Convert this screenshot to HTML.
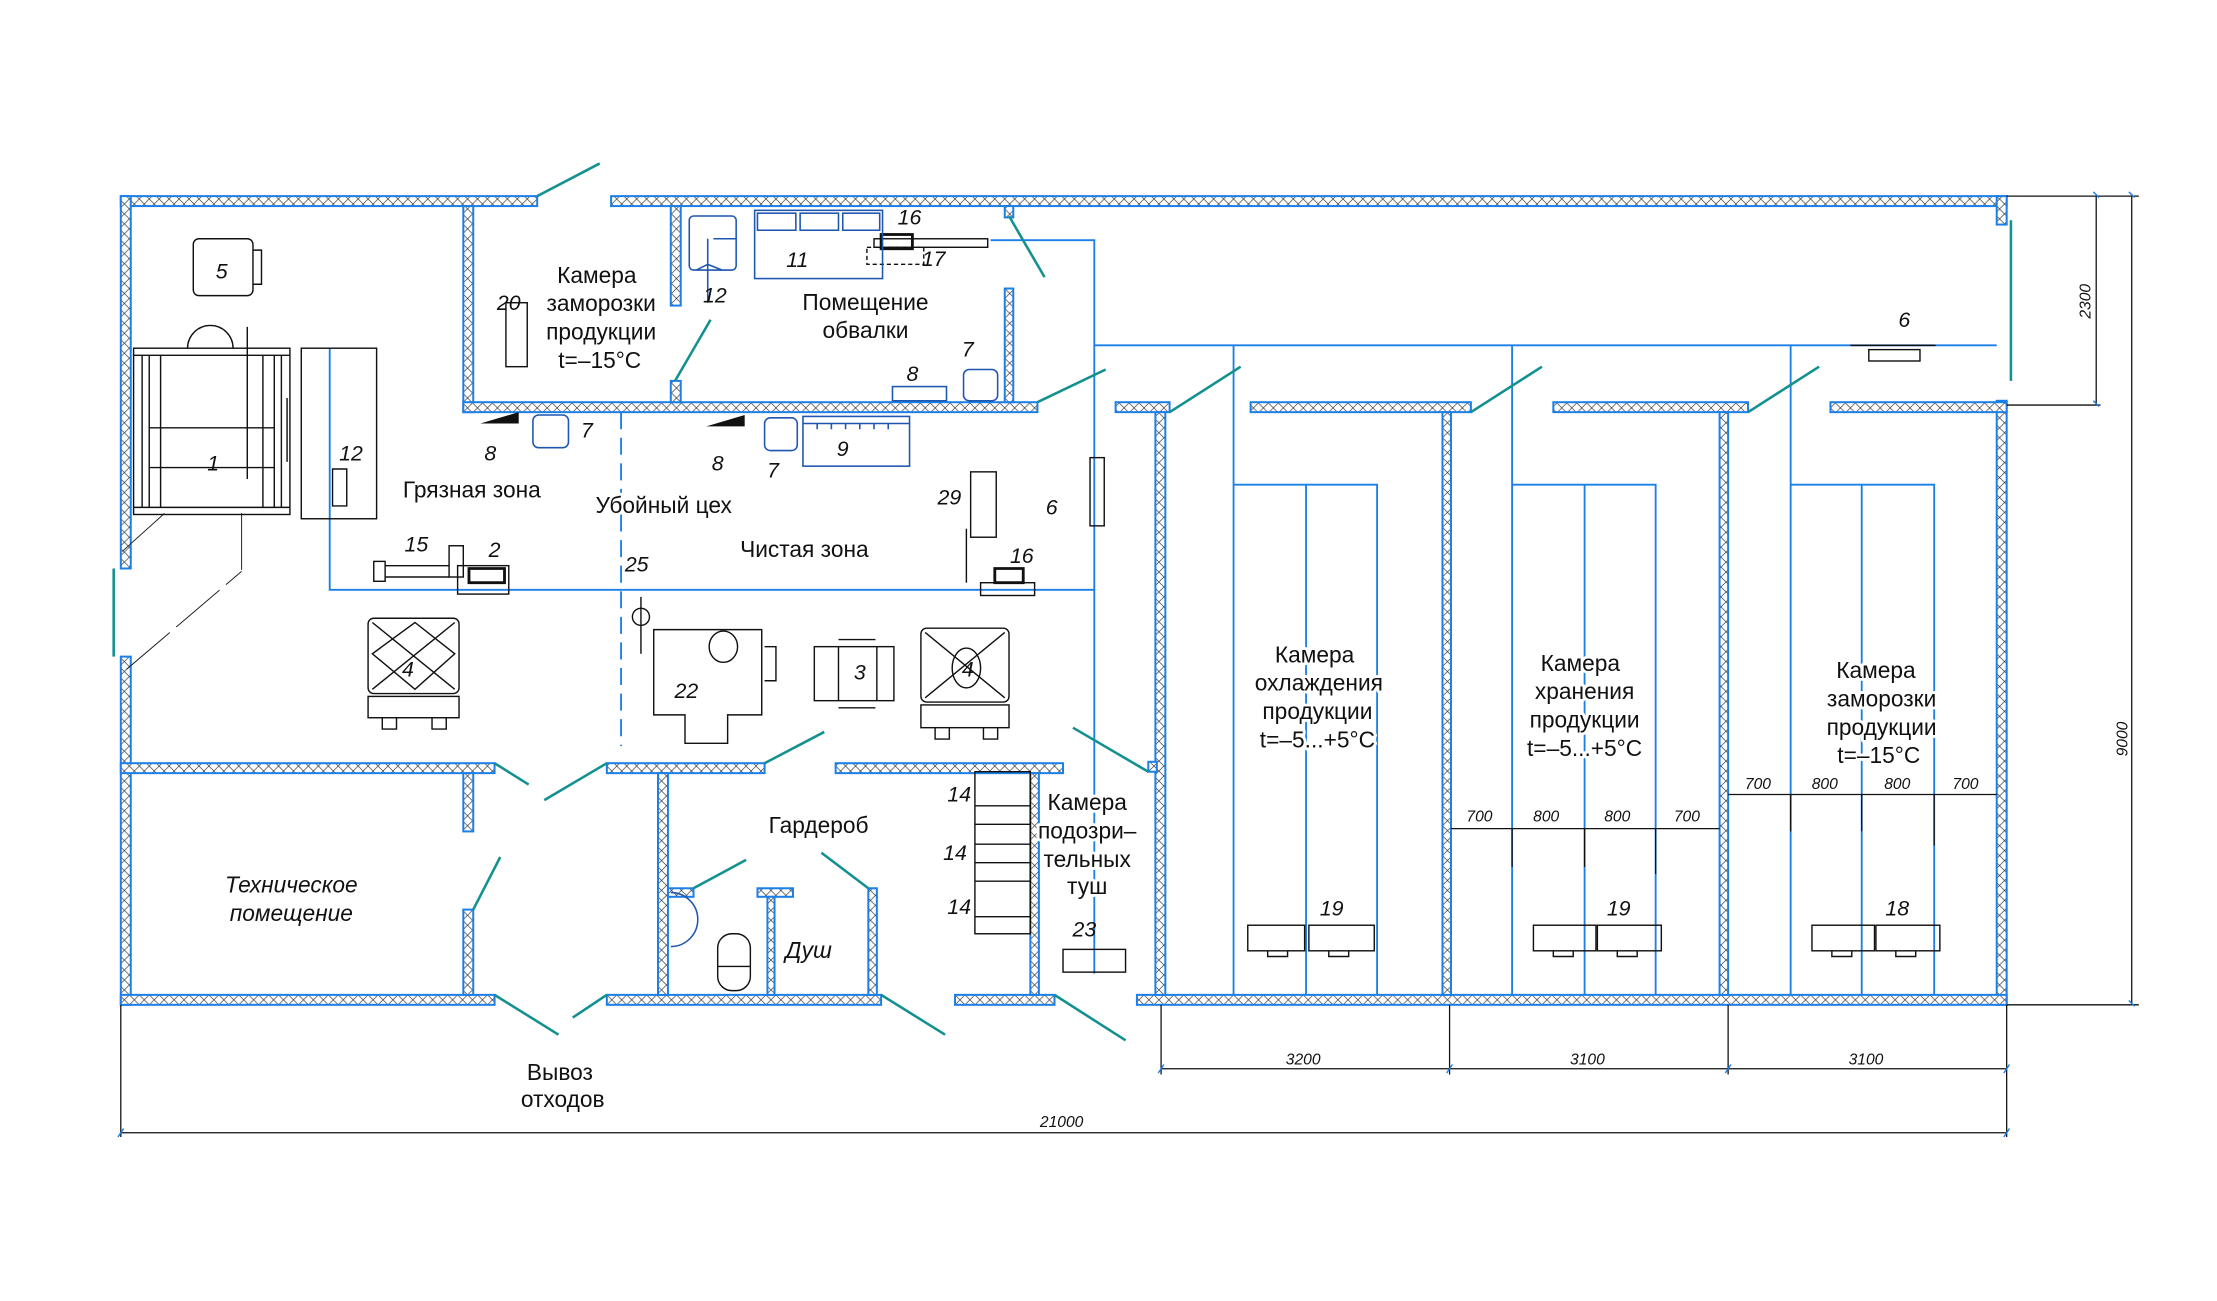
<!DOCTYPE html>
<html><head><meta charset="utf-8">
<style>
html,body{margin:0;padding:0;background:#fff;}
svg{display:block;}
text{font-family:"Liberation Sans Narrow","Liberation Sans",sans-serif;fill:#111;}
.t{font-size:16px;text-anchor:middle;paint-order:stroke;stroke:#fff;stroke-width:4px;stroke-linejoin:round;}
.n{font-size:15px;text-anchor:middle;font-style:italic;}
.d{font-size:11px;text-anchor:middle;font-style:italic;fill:#333;}
</style></head>
<body>
<svg width="2217" height="1301" viewBox="0 0 1560 915.4" preserveAspectRatio="none" xmlns="http://www.w3.org/2000/svg">
<defs>
<pattern id="h" patternUnits="userSpaceOnUse" width="7" height="7">
<rect width="7" height="7" fill="#fff"/>
<path d="M0 0L7 7M7 0L0 7" stroke="#333" stroke-width="0.45"/>
</pattern>
</defs>
<rect width="1560" height="915.4" fill="#fff"/>

<g stroke="#1a7fe8" stroke-width="1.3" fill="none">
<path d="M232 245V415H770"/>
<path d="M697 169H770V685"/>
<path d="M770 243H1405"/>
<path d="M868 243V700M1064 243V700M1260 243V700"/>
<path d="M868 341H969V700M919 341V700"/>
<path d="M1064 341H1165V700M1115 341V700"/>
<path d="M1260 341H1361V700M1310 341V700"/>
<path d="M437 290V525" stroke-dasharray="12,6"/>
</g>

<g fill="url(#h)" stroke="#1a7fe8" stroke-width="1.4">
<rect x="85" y="138" width="293" height="7"/>
<rect x="430" y="138" width="982" height="7"/>
<rect x="85" y="138" width="7" height="262"/>
<rect x="85" y="462" width="7" height="245"/>
<rect x="1405" y="138" width="7" height="20"/>
<rect x="1405" y="282" width="7" height="425"/>
<rect x="85" y="700" width="263" height="7"/>
<rect x="427" y="700" width="193" height="7"/>
<rect x="672" y="700" width="70" height="7"/>
<rect x="800" y="700" width="612" height="7"/>
<rect x="326" y="145" width="7" height="145"/>
<rect x="326" y="283" width="404" height="7"/>
<rect x="472" y="145" width="7" height="70"/>
<rect x="472" y="268" width="7" height="15"/>
<rect x="707" y="203" width="6" height="80"/>
<rect x="707" y="145" width="6" height="8"/>
<rect x="785" y="283" width="38" height="7"/>
<rect x="880" y="283" width="155" height="7"/>
<rect x="1093" y="283" width="137" height="7"/>
<rect x="1288" y="283" width="124" height="7"/>
<rect x="813" y="290" width="7" height="410"/>
<rect x="1015" y="290" width="6" height="410"/>
<rect x="1210" y="290" width="6" height="410"/>
<rect x="85" y="537" width="263" height="7"/>
<rect x="427" y="537" width="111" height="7"/>
<rect x="588" y="537" width="160" height="7"/>
<rect x="326" y="544" width="7" height="41"/>
<rect x="326" y="640" width="7" height="60"/>
<rect x="463" y="544" width="7" height="156"/>
<rect x="725" y="544" width="6" height="156"/>
<rect x="470" y="625" width="18" height="6"/>
<rect x="533" y="625" width="25" height="6"/>
<rect x="540" y="631" width="5" height="69"/>
<rect x="611" y="625" width="6" height="75"/>
<rect x="808" y="536" width="6" height="7"/>
</g>

<g stroke="#139090" stroke-width="1.8" fill="none">
<path d="M378 138L422 115"/>
<path d="M475 268L500 225"/>
<path d="M710 152L735 195"/>
<path d="M730 283L778 260"/>
<path d="M823 290L873 258"/>
<path d="M1035 290L1085 258"/>
<path d="M1230 290L1280 258"/>
<path d="M1415 155V268"/>
<path d="M80 400V462"/>
<path d="M348 537L372 552"/>
<path d="M427 537L383 563"/>
<path d="M538 537L580 515"/>
<path d="M755 512L808 543"/>
<path d="M333 640L352 603"/>
<path d="M488 625L525 605"/>
<path d="M611 625L578 600"/>
<path d="M348 700L393 728"/>
<path d="M427 700L403 716"/>
<path d="M620 700L665 728"/>
<path d="M742 700L792 732"/>
</g>
<g stroke="#222" stroke-width="0.7" fill="none">
<path d="M86 388L116 361M89 471L170 402M170 361V402" stroke-dasharray="40,6"/>
</g>

<g stroke="#111" stroke-width="1" fill="none">
<rect x="136" y="168" width="42" height="40" rx="4"/>
<path d="M178 176h6v24h-6"/>
<rect x="94" y="245" width="110" height="117"/>
<path d="M94 250h110M94 357h110M100 250v107M105 250v107M113 250v107M198 250v107M193 250v107M185 250v107M105 301h88M105 329h88"/>
<path d="M132 245a16 16 0 0 1 32 0"/>
<path d="M174 337V230M202 280v45"/>
<rect x="212" y="245" width="53" height="120"/>
<path d="M234 330h10v26h-10z"/>
<rect x="263" y="395" width="8" height="14"/>
<path d="M271 398h45M271 406h45"/>
<rect x="316" y="384" width="10" height="22"/>
<rect x="322" y="398" width="36" height="20"/>
<path d="M330 400h25v10h-25z" stroke-width="2"/>
<rect x="690" y="410" width="38" height="9"/>
<path d="M700 400h20v10h-20z" stroke-width="2"/>
<path d="M680 372V410"/>
<rect x="259" y="435" width="64" height="53" rx="4"/>
<path d="M262 438l58 47M320 438l-58 47M262 460l30-22 28 22-28 25z"/>
<rect x="259" y="490" width="64" height="15"/>
<path d="M269 505v8h10v-8M304 505v8h10v-8"/>
<rect x="648" y="442" width="62" height="52" rx="4"/>
<path d="M651 445l56 46M707 445l-56 46"/>
<rect x="648" y="496" width="62" height="16"/>
<path d="M658 512v8h10v-8M692 512v8h10v-8"/>
<ellipse cx="680" cy="470" rx="10" ry="14"/>
<path d="M462 443h38M528 443h8v60h-24v20h-30v-20h-22v-60z"/>
<ellipse cx="509" cy="455" rx="10" ry="11"/>
<path d="M538 455h8v24h-8"/>
<path d="M451 420v40"/><circle cx="451" cy="434" r="6"/>
<rect x="573" y="455" width="56" height="38"/>
<path d="M590 455v38M617 455v38M590 450h26M590 498h26"/>
<rect x="683" y="332" width="18" height="46"/>
<rect x="767" y="322" width="10" height="48"/>
<rect x="356" y="213" width="15" height="45"/>
<rect x="615" y="168" width="80" height="6"/>
<rect x="620" y="165" width="22" height="10" stroke-width="2"/>
<rect x="610" y="174" width="40" height="12" stroke-dasharray="3,2"/>
<rect x="686" y="543" width="39" height="114"/>
<path d="M686 567h39M686 594h39M686 620h39M686 645h39M686 580h39M686 607h39"/>
<rect x="748" y="668" width="44" height="16"/>
<rect x="878" y="651" width="40" height="18"/><rect x="921" y="651" width="46" height="18"/>
<rect x="1079" y="651" width="44" height="18"/><rect x="1124" y="651" width="45" height="18"/>
<rect x="1275" y="651" width="44" height="18"/><rect x="1320" y="651" width="45" height="18"/>
<path d="M892 669v4h14v-4M935 669v4h14v-4M1093 669v4h14v-4M1138 669v4h14v-4M1289 669v4h14v-4M1334 669v4h14v-4"/>
<path d="M1302 243h60"/><rect x="1315" y="246" width="36" height="8"/>
<rect x="505" y="657" width="23" height="40" rx="10"/>
<path d="M505 680h23"/>
</g>
<g stroke="#1e56b0" stroke-width="1.1" fill="none">
<rect x="485" y="152" width="33" height="38" rx="3"/>
<path d="M502 168h16M498 168v45M490 190l8 -4 10 4"/>
<rect x="531" y="148" width="90" height="48"/>
<rect x="533" y="150" width="27" height="12"/><rect x="563" y="150" width="27" height="12"/><rect x="593" y="150" width="26" height="12"/>
<rect x="628" y="272" width="38" height="10"/>
<rect x="678" y="260" width="24" height="22" rx="4"/>
<rect x="375" y="292" width="25" height="23" rx="4"/>
<rect x="538" y="294" width="23" height="23" rx="4"/>
<rect x="565" y="293" width="75" height="35"/>
<path d="M565 298h75M575 298v4M585 298v4M595 298v4M605 298v4M615 298v4M625 298v4"/>
<path d="M472 628a16 16 0 0 1 0 38"/>
</g>
<path d="M338 298l27 -8v8z M497 300l27 -8v8z" fill="#111"/>

<g stroke="#111" stroke-width="0.9" fill="none">
<path d="M85 797H1412M85 707V800M1412 707V800"/>
<path d="M817 752H1412M817 707V756M1020 707V756M1216 707V756"/>
<path d="M1412 138H1505M1412 285H1478M1412 707H1505M1475 138V285M1500 138V707"/>
<path d="M1021 583H1210M1064 583V610M1115 583V610M1165 583V615"/>
<path d="M1216 559H1405M1260 559V585M1310 559V585M1361 559V595"/>
</g>
<g stroke="#1a7fe8" stroke-width="1">
<path d="M83 800l4 -6M815 755l4 -6M1018 755l4 -6M1214 755l4 -6M1410 755l4 -6M1410 800l4 -6"/>
<path d="M1473 135l4 4M1473 282l4 4M1498 135l4 4M1498 704l4 4"/>
</g>

<g class="t">
<text x="420" y="199">Камера</text>
<text x="423" y="219">заморозки</text>
<text x="423" y="239">продукции</text>
<text x="422" y="259">t=–15°C</text>
<text x="609" y="218">Помещение</text>
<text x="609" y="238">обвалки</text>
<text x="332" y="350">Грязная зона</text>
<text x="467" y="361">Убойный цех</text>
<text x="566" y="392">Чистая зона</text>
<text x="925" y="466">Камера</text>
<text x="928" y="486">охлаждения</text>
<text x="927" y="506">продукции</text>
<text x="927" y="526">t=–5...+5°C</text>
<text x="1112" y="472">Камера</text>
<text x="1115" y="492">хранения</text>
<text x="1115" y="512">продукции</text>
<text x="1115" y="532">t=–5...+5°C</text>
<text x="1320" y="477">Камера</text>
<text x="1324" y="497">заморозки</text>
<text x="1324" y="517">продукции</text>
<text x="1322" y="537">t=–15°C</text>
<text x="576" y="586">Гардероб</text>
<text x="765" y="570">Камера</text>
<text x="765" y="590">подозри–</text>
<text x="765" y="610">тельных</text>
<text x="765" y="629">туш</text>
<text x="394" y="760">Вывоз</text>
<text x="396" y="779">отходов</text>
<text x="205" y="628" font-style="italic">Техническое</text>
<text x="205" y="648" font-style="italic">помещение</text>
<text x="569" y="674" font-style="italic">Душ</text>
</g>
<g class="n">
<text x="156" y="196">5</text><text x="150" y="331">1</text><text x="247" y="324">12</text>
<text x="358" y="218">20</text><text x="503" y="213">12</text><text x="561" y="188">11</text>
<text x="640" y="158">16</text><text x="657" y="187">17</text><text x="681" y="251">7</text>
<text x="642" y="268">8</text><text x="345" y="324">8</text><text x="413" y="308">7</text>
<text x="505" y="331">8</text><text x="544" y="336">7</text><text x="593" y="321">9</text>
<text x="668" y="355">29</text><text x="740" y="362">6</text><text x="293" y="388">15</text>
<text x="348" y="392">2</text><text x="719" y="396">16</text><text x="448" y="402">25</text>
<text x="287" y="476">4</text><text x="483" y="491">22</text><text x="605" y="478">3</text>
<text x="681" y="476">4</text><text x="675" y="564">14</text><text x="672" y="605">14</text>
<text x="675" y="643">14</text><text x="763" y="659">23</text><text x="937" y="644">19</text>
<text x="1139" y="644">19</text><text x="1335" y="644">18</text><text x="1340" y="230">6</text>
</g>
<g class="d">
<text x="917" y="749">3200</text><text x="1117" y="749">3100</text><text x="1313" y="749">3100</text>
<text x="747" y="793">21000</text>
<text x="1041" y="578">700</text><text x="1088" y="578">800</text><text x="1138" y="578">800</text><text x="1187" y="578">700</text>
<text x="1237" y="555">700</text><text x="1284" y="555">800</text><text x="1335" y="555">800</text><text x="1383" y="555">700</text>
<text transform="translate(1471,212) rotate(-90)">2300</text>
<text transform="translate(1497,520) rotate(-90)">9000</text>
</g>
</svg>
</body></html>
